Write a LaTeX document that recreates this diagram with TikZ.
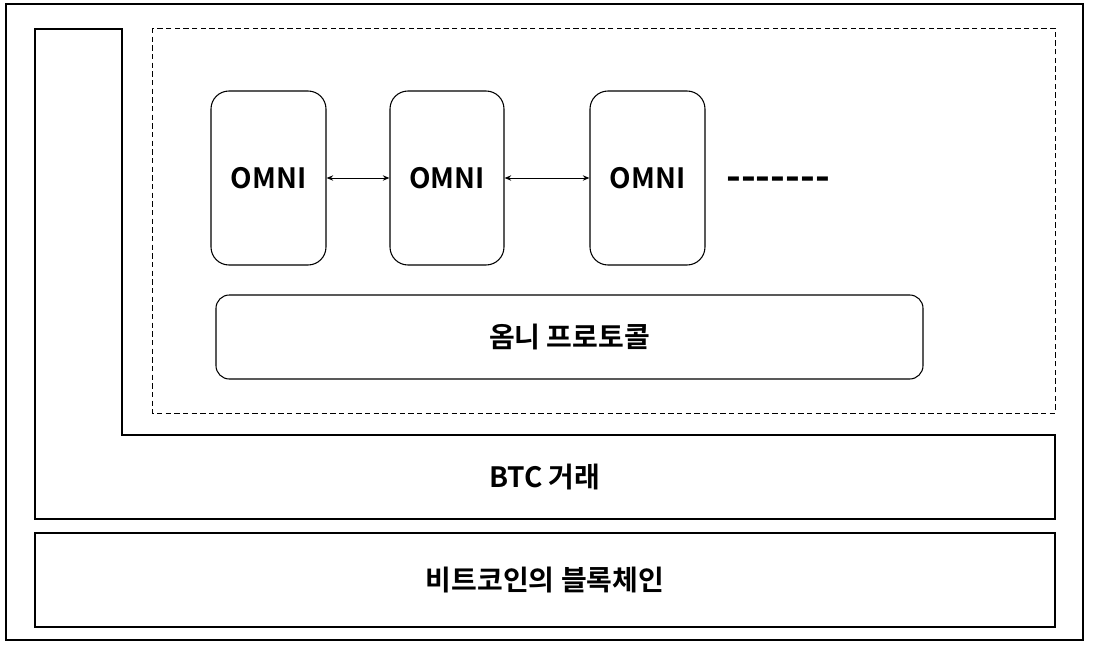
\documentclass[tikz,border=0pt]{standalone}
\usepackage{fontspec}
\setmainfont{Noto Sans CJK KR}[BoldFont={Noto Sans CJK KR Bold}]
\usetikzlibrary{arrows.meta}
\begin{document}
\begin{tikzpicture}[x=0.75pt,y=-0.75pt,
  box/.style={draw,line width=0.8pt},
  rbox/.style={draw,line width=0.8pt,rounded corners=13.5pt},
  lbl/.style={font=\fontsize{21}{24}\selectfont\bfseries},
  link/.style={line width=0.7pt,{Stealth[length=5pt,width=4pt]}-{Stealth[length=5pt,width=4pt]}}]
\useasboundingbox (0,0) rectangle (1093,646);
\draw[box] (6,4) rectangle (1083,640);
\draw[box] (35,29) -- (122,29) -- (122,435) -- (1055,435) -- (1055,519) -- (35,519) -- cycle;
\draw[line width=0.6pt,dash pattern=on 4pt off 2.5pt] (152,28) rectangle (1055,413);
\draw[box] (35,533) rectangle (1055,627);
\node[rbox,minimum width=86.25pt,minimum height=130.5pt,lbl] (o1) at (268.5,178) {OMNI};
\node[rbox,minimum width=85.5pt,minimum height=130.5pt,lbl] (o2) at (447,178) {OMNI};
\node[rbox,minimum width=86.25pt,minimum height=130.5pt,lbl] (o3) at (647.5,178) {OMNI};
\node[font=\fontsize{30}{30}\selectfont\bfseries] (dots) at (778,184) {-{}-{}-{}-{}-{}-{}-};
\node[rbox,rounded corners=10pt,minimum width=530.25pt,minimum height=63pt,lbl] (proto) at (569.5,337) {옴니 프로토콜};
\node[lbl] (btc) at (545,477) {BTC 거래};
\node[lbl] (chain) at (545,580) {비트코인의 블록체인};
\draw[link] (o1.east) -- (o2.west);
\draw[link] (o2.east) -- (o3.west);
\end{tikzpicture}
\end{document}
